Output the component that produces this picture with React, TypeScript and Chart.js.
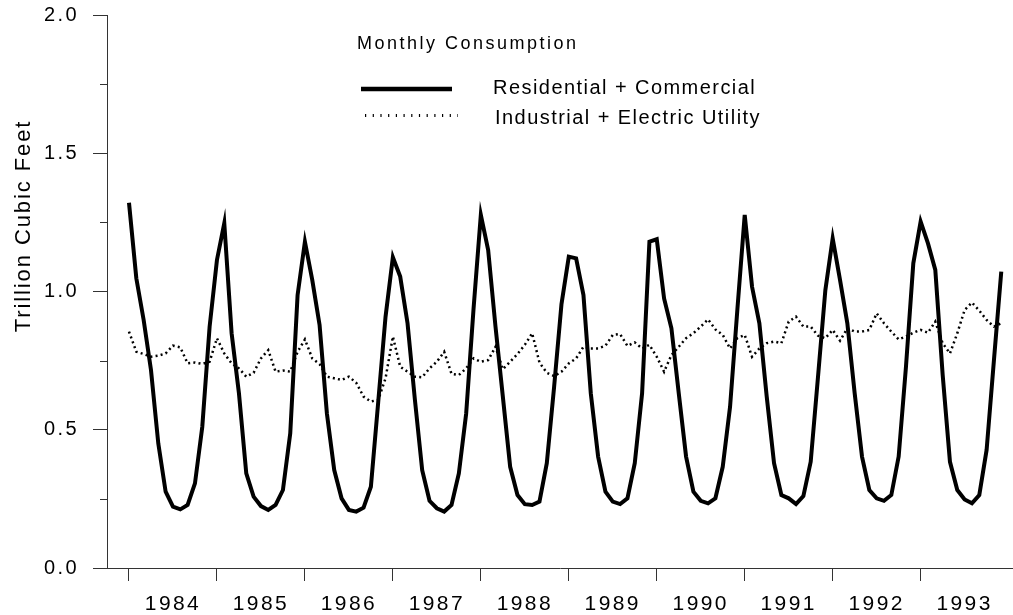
import React, { useEffect, useRef } from 'react';
import { Chart, registerables } from 'chart.js';

Chart.register(...registerables);

// ---- data (monthly, Jan 1984 – Dec 1993), trillion cubic feet ----
const years = ['1984', '1985', '1986', '1987', '1988', '1989', '1990', '1991', '1992', '1993'];

const residential = [
  1.321, 1.048, 0.897, 0.716, 0.45, 0.276, 0.222, 0.212, 0.228, 0.306, 0.511, 0.873,
  1.114, 1.247, 0.849, 0.632, 0.342, 0.258, 0.224, 0.21, 0.228, 0.282, 0.487, 0.987,
  1.18, 1.042, 0.879, 0.559, 0.354, 0.252, 0.21, 0.204, 0.218, 0.294, 0.6, 0.909,
  1.124, 1.054, 0.885, 0.61, 0.354, 0.243, 0.216, 0.204, 0.228, 0.342, 0.559, 0.935,
  1.277, 1.15, 0.873, 0.62, 0.366, 0.264, 0.231, 0.228, 0.24, 0.379, 0.656, 0.954,
  1.126, 1.12, 0.987, 0.632, 0.403, 0.276, 0.24, 0.231, 0.252, 0.379, 0.632, 1.18,
  1.189, 0.975, 0.867, 0.632, 0.403, 0.276, 0.243, 0.234, 0.252, 0.366, 0.583, 0.935,
  1.277, 1.017, 0.885, 0.62, 0.379, 0.264, 0.252, 0.231, 0.26, 0.384, 0.692, 1.005,
  1.192, 1.042, 0.885, 0.632, 0.403, 0.282, 0.252, 0.243, 0.264, 0.403, 0.728, 1.102,
  1.253, 1.174, 1.078, 0.7, 0.384, 0.282, 0.248, 0.234, 0.264, 0.427, 0.752, 1.072,
];

const industrial = [
  0.855, 0.782, 0.774, 0.764, 0.768, 0.776, 0.804, 0.798, 0.74, 0.743, 0.738, 0.746,
  0.831, 0.776, 0.74, 0.722, 0.692, 0.706, 0.758, 0.788, 0.71, 0.714, 0.71, 0.782,
  0.827, 0.758, 0.737, 0.692, 0.686, 0.68, 0.692, 0.67, 0.62, 0.602, 0.608, 0.686,
  0.837, 0.728, 0.71, 0.692, 0.69, 0.722, 0.746, 0.782, 0.702, 0.698, 0.722, 0.758,
  0.746, 0.752, 0.8, 0.719, 0.746, 0.774, 0.807, 0.849, 0.743, 0.706, 0.694, 0.71,
  0.74, 0.758, 0.8, 0.794, 0.794, 0.804, 0.843, 0.846, 0.803, 0.816, 0.794, 0.807,
  0.764, 0.71, 0.77, 0.8, 0.831, 0.849, 0.873, 0.899, 0.863, 0.843, 0.794, 0.831,
  0.843, 0.764, 0.794, 0.813, 0.819, 0.813, 0.891, 0.909, 0.873, 0.873, 0.84, 0.831,
  0.861, 0.822, 0.867, 0.855, 0.855, 0.861, 0.921, 0.885, 0.855, 0.827, 0.837, 0.851,
  0.861, 0.851, 0.891, 0.813, 0.776, 0.849, 0.933, 0.96, 0.931, 0.897, 0.873, 0.885,
];

const yMinorTicks = [0.25, 0.75, 1.25, 1.75];
const legendTitle = 'Monthly Consumption';
const seriesNames = ['Residential + Commercial', 'Industrial + Electric Utility'];
const yTitle = 'Trillion Cubic Feet';

const FONT = '"Liberation Sans", Arial, Helvetica, sans-serif';
const AXIS = '#333333';
const INK = '#000000';

const decor = {
  id: 'decor',
  beforeLayout(chart: any) {
    chart.ctx.letterSpacing = '2.4px';
  },
  beforeDraw(chart: any) {
    chart.ctx.letterSpacing = '2.4px';
  },
  afterDraw(chart: any) {
    const ctx = chart.ctx as CanvasRenderingContext2D;
    const ys = chart.scales.y;

    // minor y ticks
    ctx.save();
    ctx.strokeStyle = AXIS;
    ctx.lineWidth = 1;
    for (const v of yMinorTicks) {
      const py = Math.round(ys.getPixelForValue(v)) + 0.5;
      ctx.beginPath();
      ctx.moveTo(ys.right - 7, py);
      ctx.lineTo(ys.right, py);
      ctx.stroke();
    }
    ctx.restore();

    // y-axis title
    ctx.save();
    ctx.translate(30, 226);
    ctx.rotate(-Math.PI / 2);
    (ctx as any).letterSpacing = '1.9px';
    ctx.font = `22px ${FONT}`;
    ctx.fillStyle = INK;
    ctx.textAlign = 'center';
    ctx.textBaseline = 'alphabetic';
    ctx.fillText(yTitle, 0, 0);
    ctx.restore();

    // legend
    ctx.save();
    ctx.fillStyle = INK;
    ctx.textAlign = 'left';
    ctx.textBaseline = 'alphabetic';
    (ctx as any).letterSpacing = '2.5px';
    ctx.font = `18px ${FONT}`;
    ctx.fillText(legendTitle, 357, 49);

    (ctx as any).letterSpacing = '1.45px';
    ctx.font = `20px ${FONT}`;
    ctx.fillText(seriesNames[0], 493, 94);
    ctx.fillText(seriesNames[1], 495, 124);

    ctx.strokeStyle = INK;
    ctx.lineWidth = 4.5;
    ctx.setLineDash([]);
    ctx.beginPath();
    ctx.moveTo(361, 89);
    ctx.lineTo(452, 89);
    ctx.stroke();

    ctx.lineWidth = 3;
    ctx.setLineDash([1.2, 6.5]);
    ctx.beginPath();
    ctx.moveTo(365, 115.5);
    ctx.lineTo(458, 115.5);
    ctx.stroke();
    ctx.restore();
  },
};

export default function App() {
  const ref = useRef<HTMLCanvasElement | null>(null);

  useEffect(() => {
    if (!ref.current) return;
    const chart = new Chart(ref.current, {
      type: 'line',
      data: {
        datasets: [
          {
            label: seriesNames[0],
            data: residential.map((v, i) => ({ x: i, y: v })),
            borderColor: INK,
            borderWidth: 4,
            pointRadius: 0,
            tension: 0,
            fill: false,
          },
          {
            label: seriesNames[1],
            data: industrial.map((v, i) => ({ x: i, y: v })),
            borderColor: INK,
            borderWidth: 2.5,
            borderDash: [2, 3.2],
            pointRadius: 0,
            tension: 0,
            fill: false,
          },
        ],
      },
      options: {
        responsive: false,
        animation: false,
        layout: { padding: { top: 15, right: 0, bottom: 0, left: 0 } },
        plugins: {
          legend: { display: false },
          tooltip: { enabled: false },
          title: { display: false },
        },
        scales: {
          x: {
            type: 'linear',
            min: -3,
            max: 120.6,
            afterBuildTicks: (scale: any) => {
              const t: any[] = [];
              for (let k = 0; k < years.length; k++) {
                t.push({ value: k * 12 });
                t.push({ value: k * 12 + 6 });
              }
              scale.ticks = t;
            },
            afterFit: (scale: any) => {
              scale.height = 47;
              scale.paddingLeft = 0;
              scale.paddingRight = 0;
            },
            border: { display: true, color: AXIS, width: 1 },
            grid: {
              display: true,
              drawOnChartArea: false,
              drawTicks: true,
              tickLength: 13,
              tickWidth: 1,
              tickColor: (c: any) =>
                c.tick && c.tick.value % 12 === 0 ? AXIS : 'rgba(0,0,0,0)',
            },
            ticks: {
              autoSkip: false,
              maxRotation: 0,
              minRotation: 0,
              padding: 11,
              color: INK,
              font: { family: FONT, size: 21 },
              callback: (v: any) => {
                const n = Number(v);
                return n % 12 === 6 ? years[(n - 6) / 12] : '';
              },
            },
          },
          y: {
            type: 'linear',
            min: 0,
            max: 2,
            afterFit: (scale: any) => {
              scale.width = 107;
              scale.paddingTop = 0;
              scale.paddingBottom = 0;
            },
            border: { display: true, color: AXIS, width: 1 },
            grid: {
              display: true,
              drawOnChartArea: false,
              drawTicks: true,
              tickLength: 14,
              tickWidth: 1,
              tickColor: AXIS,
            },
            ticks: {
              stepSize: 0.5,
              padding: 14,
              color: INK,
              font: { family: FONT, size: 20 },
              callback: (v: any) => Number(v).toFixed(1),
            },
          },
        },
      },
      plugins: [decor],
    } as any);
    return () => chart.destroy();
  }, []);

  return (
    <canvas
      ref={ref}
      width={1013}
      height={615}
      style={{ display: 'block', position: 'absolute', left: 0, top: 0 }}
    />
  );
}
